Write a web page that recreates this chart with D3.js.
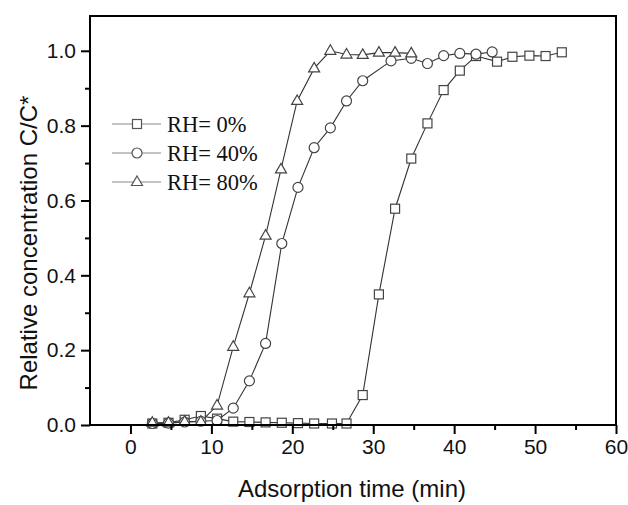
<!DOCTYPE html>
<html>
<head>
<meta charset="utf-8">
<script src="https://cdn.jsdelivr.net/npm/d3@7"></script>
<style>
    body { margin: 0; background: #fff; }
    svg { display: block; }
    .axis text { font-family: "Liberation Sans", Arial, sans-serif; font-size: 21px; fill: #111; }
    .axis path, .axis line { stroke: #000; stroke-width: 2; }
    .title { font-family: "Liberation Sans", Arial, sans-serif; font-size: 24px; fill: #111; }
    .legend text { font-family: "Liberation Serif", "Times New Roman", serif; font-size: 22.5px; fill: #111; }
</style>
</head>
<body>
<div id="chart"></div>
<script>

// RH = 0 %
let sqTime = [2.7, 4.7, 6.7, 8.7, 10.7, 12.7, 14.7, 16.7, 18.7, 20.7, 22.7, 24.9, 26.7, 28.7, 30.7, 32.7, 34.7, 36.7, 38.7, 40.7, 42.7, 45.3, 47.2, 49.3, 51.3, 53.3];
let sqValue = [0.004, 0.006, 0.014, 0.024, 0.017, 0.009, 0.008, 0.007, 0.006, 0.005, 0.004, 0.004, 0.004, 0.08, 0.349, 0.578, 0.712, 0.806, 0.895, 0.947, 0.986, 0.971, 0.984, 0.987, 0.986, 0.996];

// RH = 40 %
let ciTime = [2.7, 4.7, 6.7, 8.7, 10.7, 12.7, 14.7, 16.7, 18.7, 20.7, 22.7, 24.7, 26.7, 28.7, 32.2, 34.7, 36.7, 38.7, 40.7, 42.7, 44.7];
let ciValue = [0.004, 0.005, 0.008, 0.01, 0.012, 0.045, 0.118, 0.218, 0.485, 0.635, 0.741, 0.794, 0.866, 0.92, 0.973, 0.98, 0.966, 0.987, 0.993, 0.991, 0.997];

// RH = 80 %
let trTime = [2.7, 4.7, 6.7, 8.7, 10.7, 12.7, 14.7, 16.7, 18.6, 20.6, 22.7, 24.7, 26.7, 28.7, 30.7, 32.7, 34.7];
let trValue = [0.006, 0.006, 0.009, 0.009, 0.052, 0.209, 0.352, 0.506, 0.683, 0.866, 0.953, 1.0, 0.99, 0.989, 0.995, 0.995, 0.993];

let seriesNames = ["RH= 0%", "RH= 40%", "RH= 80%"];
let xMajor = [0, 10, 20, 30, 40, 50, 60];
let xMinor = [5, 15, 25, 35, 45, 55];
let yMajor = [0, 0.2, 0.4, 0.6, 0.8, 1.0];
let yMinor = [0.1, 0.3, 0.5, 0.7, 0.9];

let series = [
    {name: seriesNames[0], shape: "square", data: sqTime.map((t, i) => ({t: t, v: sqValue[i]}))},
    {name: seriesNames[1], shape: "circle", data: ciTime.map((t, i) => ({t: t, v: ciValue[i]}))},
    {name: seriesNames[2], shape: "triangle", data: trTime.map((t, i) => ({t: t, v: trValue[i]}))}
];

let width = 628, height = 505;
let margin = {top: 16, right: 12, bottom: 80, left: 90};

let svg = d3.select("#chart").append("svg")
    .attr("width", width)
    .attr("height", height);

let x = d3.scaleLinear().domain([-5, 60]).range([margin.left, width - margin.right]);
let y = d3.scaleLinear().domain([0, 1.093]).range([height - margin.bottom, margin.top]);

// marker drawing
function drawMarker(g, shape) {
    if (shape === "square") {
        g.append("rect").attr("x", -4.5).attr("y", -4.5).attr("width", 9).attr("height", 9);
    } else if (shape === "circle") {
        g.append("circle").attr("r", 5);
    } else {
        g.append("path").attr("d", "M0,-6 L5.5,3.5 L-5.5,3.5 Z");
    }
}

let line = d3.line().x(d => x(d.t)).y(d => y(d.v));

series.forEach(s => {
    svg.append("path")
        .datum(s.data)
        .attr("d", line)
        .attr("fill", "none")
        .attr("stroke", "#333")
        .attr("stroke-width", 1.1);
});

series.forEach(s => {
    svg.append("g").selectAll("g")
        .data(s.data)
        .join("g")
        .attr("transform", d => `translate(${x(d.t)},${y(d.v)})`)
        .attr("fill", "#fff")
        .attr("stroke", "#444")
        .attr("stroke-width", 1.2)
        .each(function() { drawMarker(d3.select(this), s.shape); });
});

// frame
svg.append("rect")
    .attr("x", x(-5)).attr("y", y(1.093))
    .attr("width", x(60) - x(-5)).attr("height", y(0) - y(1.093))
    .attr("fill", "none")
    .attr("stroke", "#000")
    .attr("stroke-width", 2);

// axes
svg.append("g").attr("class", "axis")
    .attr("transform", `translate(0, ${y(0)})`)
    .call(d3.axisBottom(x).tickValues(xMajor).tickSize(9).tickPadding(5).tickSizeOuter(0));
svg.append("g").attr("class", "axis")
    .attr("transform", `translate(0, ${y(0)})`)
    .call(d3.axisBottom(x).tickValues(xMinor).tickSize(5).tickFormat("").tickSizeOuter(0));

svg.append("g").attr("class", "axis")
    .attr("transform", `translate(${x(-5)}, 0)`)
    .call(d3.axisLeft(y).tickValues(yMajor).tickSize(9).tickPadding(5).tickFormat(d3.format(".1f")).tickSizeOuter(0));
svg.append("g").attr("class", "axis")
    .attr("transform", `translate(${x(-5)}, 0)`)
    .call(d3.axisLeft(y).tickValues(yMinor).tickSize(5).tickFormat("").tickSizeOuter(0));

svg.selectAll(".axis .domain").remove();

// titles
svg.append("text")
    .attr("class", "title")
    .attr("text-anchor", "middle")
    .attr("x", 352)
    .attr("y", 497)
    .text("Adsorption time (min)");

svg.append("text")
    .attr("class", "title")
    .attr("text-anchor", "middle")
    .attr("font-size", "25.5px")
    .attr("transform", "translate(37, 243) rotate(-90)")
    .text("Relative concentration C/C*");

// legend
let legend = svg.append("g").attr("class", "legend");
series.forEach((s, i) => {
    let ly = 124 + i * 29;
    legend.append("line")
        .attr("x1", 112).attr("x2", 161)
        .attr("y1", ly).attr("y2", ly)
        .attr("stroke", "#888")
        .attr("stroke-width", 1.2);
    let m = legend.append("g")
        .attr("transform", `translate(137, ${ly})`)
        .attr("fill", "#fff")
        .attr("stroke", "#555")
        .attr("stroke-width", 1.2);
    drawMarker(m, s.shape);
    legend.append("text")
        .attr("x", 167)
        .attr("y", ly + 8)
        .text(s.name);
});

</script>
</body>
</html>
